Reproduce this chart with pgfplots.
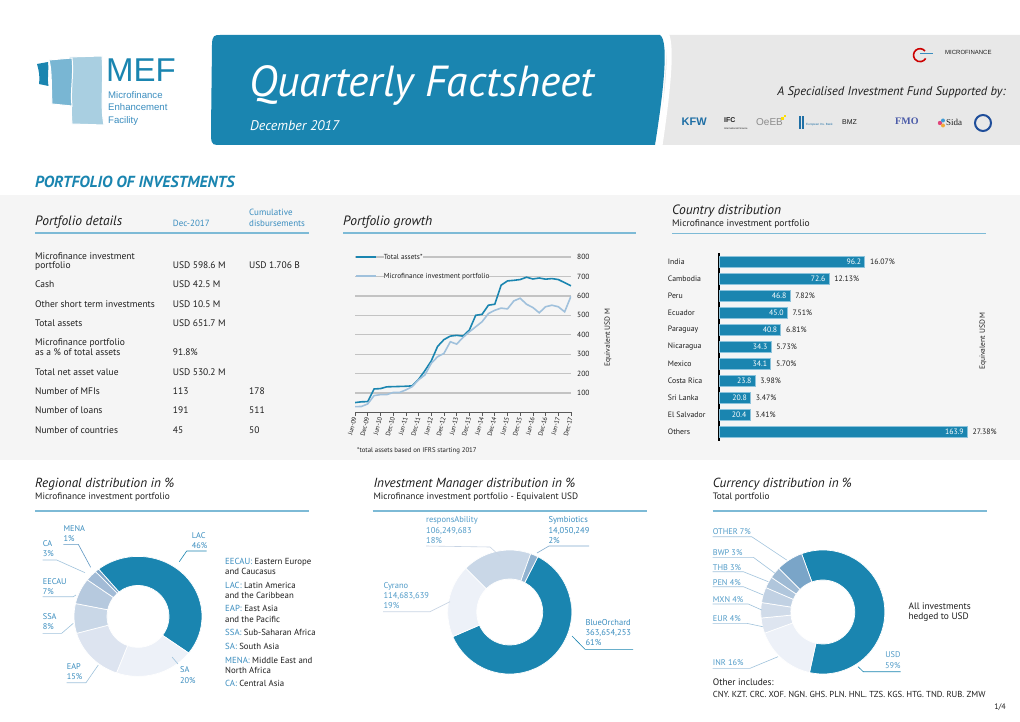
\documentclass[border=0pt]{standalone}
\usepackage{pgfplots}
\pgfplotsset{compat=1.18}
\usepackage{pgfplotstable}
\usepackage{fontspec}
\setmainfont{PT Sans}
\newfontfamily\logofont{Liberation Sans}
\newfontfamily\seriffont{Liberation Serif}
\newcommand{\fs}[1]{\fontsize{#1}{#1}\selectfont}

\definecolor{mefblue}{RGB}{26,133,176}
\definecolor{bggray}{RGB}{245,245,245}
\definecolor{hdrgray}{RGB}{232,232,232}
\definecolor{rulec}{RGB}{125,186,214}
\definecolor{lbl}{RGB}{58,141,191}
\definecolor{lbll}{RGB}{80,155,200}
\definecolor{leader}{RGB}{160,195,220}
\definecolor{gridc}{RGB}{195,195,195}
\definecolor{txt}{RGB}{30,30,30}
\definecolor{mflight}{RGB}{160,193,220}
\definecolor{barline}{RGB}{140,195,220}
\definecolor{logomid}{RGB}{121,182,211}
\definecolor{logolight}{RGB}{169,207,225}
\definecolor{kfwblue}{RGB}{31,111,165}
\definecolor{fmoblue}{RGB}{74,90,168}
\definecolor{sidapink}{RGB}{224,69,123}
\definecolor{sidablue}{RGB}{61,155,214}
\definecolor{sidaorange}{RGB}{242,169,59}
\definecolor{undark}{RGB}{31,78,154}
\definecolor{menaline}{RGB}{94,151,194}
\definecolor{raline}{RGB}{200,212,228}
\definecolor{syline}{RGB}{127,169,204}
\definecolor{cyline}{RGB}{200,212,228}
% donut shades
\definecolor{shA}{RGB}{237,241,248}
\definecolor{shB}{RGB}{221,228,240}
\definecolor{shC}{RGB}{201,215,231}
\definecolor{shD}{RGB}{182,201,222}
\definecolor{shE}{RGB}{162,187,214}
\definecolor{shF}{RGB}{127,166,200}
\definecolor{cuB}{RGB}{222,229,240}
\definecolor{cuC}{RGB}{208,219,233}
\definecolor{cuD}{RGB}{193,209,227}
\definecolor{cuE}{RGB}{176,198,220}
\definecolor{cuF}{RGB}{158,186,212}
\definecolor{cuG}{RGB}{122,165,200}
\definecolor{imS}{RGB}{144,178,208}

\pgfplotstableread{
q ta mf
0 51 30
1 55 31
2 56 44
3 121 87
4 123 92
5 132 92
6 133 103
7 134 103
8 135 116
9 137 133
10 170 168
11 215 193
12 265 253
13 340 287
14 375 304
15 393 364
16 397 352
17 393 386
18 424 415
19 500 441
20 505 467
21 552 509
22 557 526
23 655 537
24 677 533
25 680 574
26 684 588
27 696 557
28 687 540
29 692 513
30 686 544
31 689 552
32 684 544
33 668 518
34 651.7 598.6
}\growthtab

\pgfplotstableread{
y val pct
0 96.2 16.07
1 72.6 12.13
2 46.8 7.82
3 45.0 7.51
4 40.8 6.81
5 34.3 5.73
6 34.1 5.70
7 23.8 3.98
8 20.8 3.47
9 20.4 3.41
10 163.9 27.38
}\countrytab

\pgfplotstableread{
pct col
46 mefblue
20 shA
15 shB
8 shC
7 shD
3 shE
1 shF
}\regtab

\pgfplotstableread{
pct col
61 mefblue
19 shA
18 shC
2 imS
}\imtab

\pgfplotstableread{
pct col
59 mefblue
16 shA
4 cuB
4 cuC
4 cuD
3 cuE
3 cuF
7 cuG
}\curtab

% #1 table, #2 start angle, #3/#4 outer radii, #5/#6 inner radii
\newcommand{\donut}[6]{%
  \pgfplotstablegetrowsof{#1}%
  \pgfmathtruncatemacro{\nrows}{\pgfplotsretval-1}%
  \xdef\curang{#2}%
  \pgfplotsforeachungrouped \i in {0,...,\nrows}{%
    \pgfplotstablegetelem{\i}{pct}\of{#1}\let\vp\pgfplotsretval
    \pgfplotstablegetelem{\i}{col}\of{#1}\let\vc\pgfplotsretval
    \pgfmathsetmacro{\nxtang}{\curang-3.6*\vp}%
    \edef\slicecmd{\noexpand\fill[\vc, draw=white, line width=0.7pt] ([shift={(\curang:#3 and #4)}]C) arc[start angle=\curang, end angle=\nxtang, x radius=#3, y radius=#4] -- ([shift={(\nxtang:#5 and #6)}]C) arc[start angle=\nxtang, end angle=\curang, x radius=#5, y radius=#6] -- cycle;}%
    \slicecmd
    \xdef\curang{\nxtang}%
  }%
}

\begin{document}
\begin{tikzpicture}[x=1pt,y=1pt, every node/.style={text=txt}]
\useasboundingbox (0,0) rectangle (1020,721);
\fill[white] (0,0) rectangle (1020,721);

% ================= HEADER =================
\fill[hdrgray] (668,686) -- (1020,686) -- (1020,576) -- (660,576) -- cycle;
\fill[mefblue] (220,686) -- (660,686) .. controls (670,680) and (662,620) .. (655,576) -- (217,576) .. controls (211,576) and (211,580) .. (211,590) -- (212,676) .. controls (212,686) and (215,686) .. (220,686) -- cycle;
\draw[white, line width=5pt] (664.5,690) .. controls (674.5,680) and (666.5,620) .. (659.5,572);

% MEF logo
\fill[logolight, draw=white, line width=1pt] (69,664) -- (102,665) .. controls (104,640) and (100,615) .. (104,596) -- (72,597) .. controls (70,620) and (73,645) .. (69,664) -- cycle;
\fill[logomid, draw=white, line width=1pt] (49,661) -- (72,663) .. controls (74,645) and (70,630) .. (72,615) -- (52,617) .. controls (51,635) and (52,650) .. (49,661) -- cycle;
\fill[mefblue] (37,657) -- (48,659) .. controls (49,650) and (47,643) .. (48.5,635) -- (39,637) .. controls (40,645) and (39,650) .. (37,657) -- cycle;
\node[anchor=base west, inner sep=0, text=mefblue] at (106,639) {\logofont\fs{33}MEF};
\node[anchor=base west, inner sep=0, text=lbl] at (108,622.7) {\logofont\fs{9.6}Microfinance};
\node[anchor=base west, inner sep=0, text=lbl] at (108,610.3) {\logofont\fs{9.6}Enhancement};
\node[anchor=base west, inner sep=0, text=lbl] at (108,597.7) {\logofont\fs{9.6}Facility};

% title
\node[anchor=base west, inner sep=0, text=white] at (249,624) {\fs{43.5}\itshape Quarterly Factsheet};
\node[anchor=base west, inner sep=0, text=white] at (250,590) {\fs{14}\itshape December 2017};

% right part of header
\draw[red!80!black, line width=1.6pt] (925,670) arc[start angle=40, end angle=330, radius=6.5pt];
\draw[lbl, line width=0.8pt] (920,668) -- (933,668);
\node[anchor=west, inner sep=0] at (945,668.3) {\logofont\fs{6}MICROFINANCE};
\node[anchor=mid east, inner sep=0] at (1006,627.7) {\fs{12.5}\itshape A Specialised Investment Fund Supported by:};
\node[anchor=mid west, inner sep=0, text=kfwblue] at (681.5,598.3) {\logofont\fs{11}\bfseries KFW};
\node[anchor=mid west, inner sep=0] at (724,601) {\logofont\fs{7}\bfseries IFC};
\node[anchor=mid west, inner sep=0] at (724,594) {\logofont\fs{2.5}International Finance};
\node[anchor=mid west, inner sep=0, text=black!45] at (756,598) {\logofont\fs{10}OeEB};
\fill[yellow!80!orange] (781,601) rectangle (784,604);
\fill[yellow!80!orange] (784,604) rectangle (786,606);
\fill[kfwblue] (799,592) rectangle (800.5,605);
\fill[kfwblue] (802,592) rectangle (803.5,605);
\node[anchor=mid west, inner sep=0, text=kfwblue] at (806,598) {\logofont\fs{3}European Inv. Bank};
\node[anchor=mid west, inner sep=0] at (842,599) {\logofont\fs{7}BMZ};
\node[anchor=mid west, inner sep=0, text=fmoblue] at (895,599) {\seriffont\fs{10}\bfseries FMO};
\fill[sidapink] (940,598) circle (2.2pt);
\fill[sidablue] (943,600.5) circle (2pt);
\fill[sidaorange] (943,595.5) circle (2pt);
\node[anchor=mid west, inner sep=0] at (946,598) {\seriffont\fs{9}Sida};
\draw[undark, line width=2pt] (983,598) circle (8pt);

% ================= PORTFOLIO SECTION =================
\node[anchor=mid west, inner sep=0, text=mefblue] at (35,536) {\fs{16}\bfseries\itshape PORTFOLIO OF INVESTMENTS};
\fill[bggray] (0,261) rectangle (1020,526);

% Portfolio details
\node[anchor=mid west, inner sep=0] at (35,498.3) {\fs{13.5}\itshape Portfolio details};
\node[anchor=mid west, inner sep=0, text=lbl] at (172.7,497) {\fs{9}Dec-2017};
\node[anchor=mid west, inner sep=0, text=lbl] at (249,508) {\fs{9}Cumulative};
\node[anchor=mid west, inner sep=0, text=lbl] at (249,497) {\fs{9}disbursements};
\draw[rulec, line width=1.5pt] (35,488) -- (309,488);

\begin{scope}[every node/.style={anchor=mid west, inner sep=0, text=txt, font=\fs{9.5}}]
\node at (35,464.3) {Microfinance investment};
\node at (35,455) {portfolio};
\node at (172.7,455) {USD 598.6 M};
\node at (249,455) {USD 1.706 B};
\node at (35,436) {Cash};
\node at (172.7,436) {USD 42.5 M};
\node at (35,416.3) {Other short term investments};
\node at (172.7,416.3) {USD 10.5 M};
\node at (35,397) {Total assets};
\node at (172.7,397) {USD 651.7 M};
\node at (35,377.7) {Microfinance portfolio};
\node at (35,368) {as a \% of total assets};
\node at (172.7,368) {91.8\%};
\node at (35,348.3) {Total net asset value};
\node at (172.7,348.3) {USD 530.2 M};
\node at (35,329) {Number of MFIs};
\node at (172.7,329) {113};
\node at (249,329) {178};
\node at (35,310) {Number of loans};
\node at (172.7,310) {191};
\node at (249,310) {511};
\node at (35,290.3) {Number of countries};
\node at (172.7,290.3) {45};
\node at (249,290.3) {50};
\end{scope}

% Portfolio growth
\node[anchor=mid west, inner sep=0] at (343,498.3) {\fs{13.5}\itshape Portfolio growth};
\draw[rulec, line width=1.5pt] (343,488) -- (636,488);

\begin{axis}[at={(355pt,308.5pt)}, anchor=south west, scale only axis,
  width=216pt, height=155.5pt,
  xmin=0, xmax=34, ymin=0, ymax=800,
  axis x line*=bottom, axis y line*=right,
  y axis line style={draw=none},
  x axis line style={draw=black!65, line width=0.8pt},
  xtick={0,2,...,34},
  xticklabels={Jun-09,Dec-09,Jun-10,Dec-10,Jun-11,Dec-11,Jun-12,Dec-12,Jun-13,Dec-13,Jun-14,Dec-14,Jun-15,Dec-15,Jun-16,Dec-16,Jun-17,Dec-17},
  xtick align=outside, major tick length=3.5pt,
  xtick style={draw=black!65, line width=0.6pt},
  xticklabel style={rotate=75, anchor=east, font=\fs{6.5}, inner sep=1pt, text=txt},
  ytick={100,200,...,800}, ytick style={draw=none},
  yticklabel style={font=\fs{7.5}, anchor=west, inner sep=0pt, xshift=6pt, text=txt},
  /pgf/number format/assume math mode=true,
  ymajorgrids, grid style={gridc, line width=1.3pt},
  legend style={at={(0,1)}, anchor=west, yshift=-9.5pt, draw=none, fill=none, font=\fs{7.3}, inner sep=0pt, row sep=12pt,
    nodes={inner sep=0pt, text height=5.5pt, text depth=1.5pt, fill=bggray, text=txt},
    /tikz/every odd column/.append style={column sep=7pt}},
  legend cell align=left,
  legend image code/.code={\draw[#1] (0pt,0pt) -- (20pt,0pt);},
]
\addplot[mefblue, line width=1.6pt] table[x=q, y=ta] {\growthtab};
\addlegendentry{Total assets*}
\addplot[mflight, line width=1.6pt] table[x=q, y=mf] {\growthtab};
\addlegendentry{Microfinance investment portfolio}
\end{axis}
\node[rotate=90, anchor=center, inner sep=0] at (608,383.5) {\fs{7.5}Equivalent USD M};
\node[anchor=mid west, inner sep=0] at (357,271) {\fs{6.8}*total assets based on IFRS starting 2017};

% Country distribution
\node[anchor=mid west, inner sep=0] at (672,509.3) {\fs{13.5}\itshape Country distribution};
\node[anchor=mid west, inner sep=0] at (672,497) {\fs{9.5}Microfinance investment portfolio};
\draw[rulec, line width=1.5pt] (672,487.7) -- (986,487.7);

\begin{axis}[at={(719pt,280.5pt)}, anchor=south west, scale only axis,
  width=272pt, height=187.3pt,
  xbar, bar width=11pt,
  xmin=0, xmax=179.5, ymin=-0.5, ymax=10.5, y dir=reverse,
  axis x line=none, axis y line*=left,
  y axis line style={draw=black, line width=1.3pt},
  ytick={0,...,10},
  yticklabels={India,Cambodia,Peru,Ecuador,Paraguay,Nicaragua,Mexico,Costa Rica,Sri Lanka,El Salvador,Others},
  ytick style={draw=none},
  yticklabel style={anchor=west, xshift=-47pt, inner sep=0pt, font=\fs{7.8}, text=txt},
  /pgf/number format/assume math mode=true,
  point meta=x,
  visualization depends on={\thisrow{pct} \as \pctv},
  nodes near coords={\llap{\textcolor{white}{\pgfmathprintnumber[fixed,fixed zerofill,precision=1,assume math mode=true]{\pgfplotspointmeta}}\hspace{9pt}}\pgfmathprintnumber[fixed,fixed zerofill,precision=2,assume math mode=true]{\pctv}\%},
  nodes near coords style={anchor=west, inner sep=0pt, xshift=5pt, font=\fs{7.8}, text=txt},
]
\addplot[fill=mefblue, draw=barline, line width=0.7pt] table[x=val, y=y] {\countrytab};
\end{axis}
\node[rotate=90, anchor=center, inner sep=0] at (983,380) {\fs{7.5}Equivalent USD M};

% ================= BOTTOM SECTION =================
% Regional
\node[anchor=mid west, inner sep=0] at (35,236) {\fs{13.2}\itshape Regional distribution in \%};
\node[anchor=mid west, inner sep=0] at (35,224.3) {\fs{9.3}Microfinance investment portfolio};
\draw[rulec, line width=1.5pt] (35,210) -- (309.3,210);

\begin{axis}[at={(138pt,104.6pt)}, anchor=center, scale only axis, width=128pt, height=120pt, hide axis,
  xmin=-1, xmax=1, ymin=-1, ymax=1]
\coordinate (C) at (axis cs:0,0);
\donut{\regtab}{128}{64pt}{60pt}{31pt}{31pt}
\end{axis}

\begin{scope}[every node/.style={anchor=mid west, inner sep=0, text=lbl, font=\fs{8.3}}]
\node at (63.3,192) {MENA}; \node at (63.3,181.7) {1\%};
\node at (42.7,176.7) {CA}; \node at (42.7,166.7) {3\%};
\node at (42.7,139.3) {EECAU}; \node at (42.7,129.3) {7\%};
\node at (42.7,104.3) {SSA}; \node at (42.7,94.3) {8\%};
\node at (66.7,54.3) {EAP}; \node at (66.7,43.7) {15\%};
\node at (180,51) {SA}; \node at (180,40.3) {20\%};
\node at (191.7,185.3) {LAC}; \node at (191.7,175) {46\%};
\end{scope}
\begin{scope}[leader, line width=0.6pt]
\draw[menaline] (63.3,176.7) -- (78.3,176.7) -- (90.7,153.7);
\draw (42.7,161) -- (56.7,161) -- (85,148.3);
\draw (42.7,124.3) -- (73.3,124.3) -- (76,126);
\draw (42.7,87.7) -- (61.7,87.7) -- (73.3,97.7);
\draw (66.7,38.3) -- (86,38.3) -- (98.3,56);
\draw (172,64) -- (178,57);
\draw[mefblue] (206.7,170) -- (186.7,170) -- (179.3,159.3);
\end{scope}

\begin{scope}[every node/.style={anchor=mid west, inner sep=0, text=txt, font=\fs{8.8}}]
\node at (225,159.3) {\textcolor{lbl}{EECAU:} Eastern Europe};
\node at (225,149.3) {and Caucasus};
\node at (225,135) {\textcolor{lbl}{LAC:} Latin America};
\node at (225,125) {and the Caribbean};
\node at (225,112) {\textcolor{lbl}{EAP:} East Asia};
\node at (225,101) {and the Pacific};
\node at (225,88) {\textcolor{lbl}{SSA:} Sub-Saharan Africa};
\node at (225,74.3) {\textcolor{lbl}{SA:} South Asia};
\node at (225,60.3) {\textcolor{lbl}{MENA:} Middle East and};
\node at (225,50.3) {North Africa};
\node at (225,37) {\textcolor{lbl}{CA:} Central Asia};
\end{scope}

% Investment manager
\node[anchor=mid west, inner sep=0] at (373.3,236) {\fs{13.2}\itshape Investment Manager distribution in \%};
\node[anchor=mid west, inner sep=0] at (373.3,224.3) {\fs{9.3}Microfinance investment portfolio - Equivalent USD};
\draw[rulec, line width=1.5pt] (372.7,210) -- (646.7,210);

\begin{axis}[at={(509.7pt,109pt)}, anchor=center, scale only axis, width=124pt, height=124pt, hide axis,
  xmin=-1, xmax=1, ymin=-1, ymax=1]
\coordinate (C) at (axis cs:0,0);
\donut{\imtab}{63}{62pt}{62pt}{33pt}{33pt}
\end{axis}

\begin{scope}[every node/.style={anchor=mid west, inner sep=0, font=\fs{8.5}}]
\node[text=lbll] at (426,201) {responsAbility};
\node[text=lbll] at (426,190.3) {106,249,683};
\node[text=lbll] at (426,180.3) {18\%};
\node[text=lbl] at (548.3,201) {Symbiotics};
\node[text=lbl] at (548.3,190.3) {14,050,249};
\node[text=lbl] at (548.3,180.3) {2\%};
\node[text=lbll] at (383.3,135.3) {Cyrano};
\node[text=lbll] at (383.3,125) {114,683,639};
\node[text=lbll] at (383.3,115) {19\%};
\node[text=lbl] at (585.3,97.7) {BlueOrchard};
\node[text=lbl] at (585.3,87.7) {363,654,253};
\node[text=lbl] at (585.3,77.7) {61\%};
\end{scope}
\begin{scope}[line width=0.6pt]
\draw[raline] (426,175) -- (490,174) -- (500,165);
\draw[syline] (589,175) -- (549,175) -- (537,168);
\draw[cyline] (383,109.3) -- (430,109.3) -- (450,119.3);
\draw[mefblue] (572,85) -- (585,71.7) -- (633,71.7);
\end{scope}

% Currency
\node[anchor=mid west, inner sep=0] at (712.7,236) {\fs{13.2}\itshape Currency distribution in \%};
\node[anchor=mid west, inner sep=0] at (712.7,224.3) {\fs{9.3}Total portfolio};
\draw[rulec, line width=1.5pt] (712.7,210) -- (986.7,210);

\begin{axis}[at={(822.8pt,109pt)}, anchor=center, scale only axis, width=124pt, height=124pt, hide axis,
  xmin=-1, xmax=1, ymin=-1, ymax=1]
\coordinate (C) at (axis cs:0,0);
\donut{\curtab}{110}{62pt}{62pt}{32pt}{32pt}
\end{axis}

\begin{scope}[every node/.style={anchor=mid west, inner sep=0, text=lbll, font=\fs{8.3}}]
\node at (712.7,188.7) {OTHER 7\%};
\node at (712.7,168.3) {BWP 3\%};
\node at (712.7,153.3) {THB 3\%};
\node at (712.7,137.7) {PEN 4\%};
\node at (712.7,121) {MXN 4\%};
\node at (712.7,101.7) {EUR 4\%};
\node at (712.7,57.7) {INR 16\%};
\node[anchor=mid east] at (900.7,66) {USD};
\node[anchor=mid east] at (900.7,55) {59\%};
\end{scope}
\begin{scope}[leader, line width=0.6pt]
\draw (712.7,184.3) -- (751.7,184.3) -- (786.7,161);
\draw (712.7,163.7) -- (753.3,163.7) -- (775,147.7);
\draw (712.7,149.3) -- (743.3,149.3) -- (768.3,139.3);
\draw (712.7,134.3) -- (743.3,134.3) -- (763.3,126);
\draw (712.7,117) -- (748.3,117) -- (761.7,111);
\draw (712.7,97.7) -- (746.7,97.7) -- (762.7,94.3);
\draw (712.7,52.7) -- (750,52.7) -- (778,64.3);
\draw[mefblue] (858,54.3) -- (863.3,49.3) -- (900.7,49.3);
\end{scope}
\node[anchor=mid west, inner sep=0] at (908.3,114.3) {\fs{9.4}All investments};
\node[anchor=mid west, inner sep=0] at (908.3,103.7) {\fs{9.4}hedged to USD};
\node[anchor=mid west, inner sep=0] at (712.7,37.7) {\fs{9.4}Other includes:};
\node[anchor=mid west, inner sep=0] at (712.7,26) {\fs{8.7}CNY. KZT. CRC. XOF. NGN. GHS. PLN. HNL. TZS. KGS. HTG. TND. RUB. ZMW};
\node[anchor=mid east, inner sep=0] at (1006,14.3) {\fs{8}1/4};
\end{tikzpicture}
\end{document}
